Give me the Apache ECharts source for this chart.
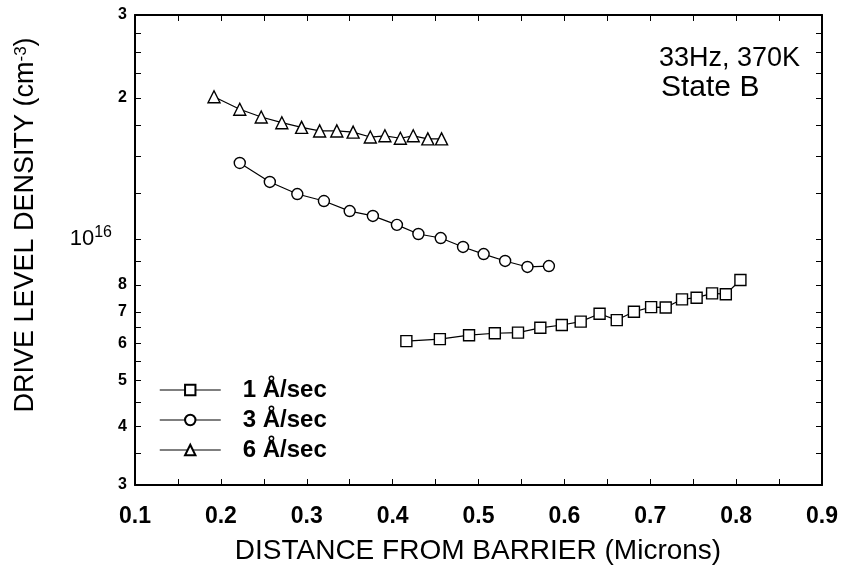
<!DOCTYPE html>
<html>
<head>
<meta charset="utf-8">
<script src="https://cdn.jsdelivr.net/npm/echarts@6/dist/echarts.min.js"></script>
<style>
  html, body { margin: 0; padding: 0; background: #fff; }
  #chart { width: 851px; height: 569px; }
</style>
</head>
<body>
<div id="chart"></div>
<script>
// Drive level density profiles (cm^-3) versus distance from the barrier (microns)
const rate1X = [0.416, 0.455, 0.489, 0.519, 0.546, 0.572, 0.597, 0.619, 0.641, 0.661, 0.681, 0.701, 0.718, 0.737, 0.754, 0.772, 0.788, 0.805];
const rate1Y = [6.07e15, 6.13e15, 6.25e15, 6.31e15, 6.33e15, 6.48e15, 6.57e15, 6.68e15, 6.94e15, 6.73e15, 7.01e15, 7.17e15, 7.16e15, 7.45e15, 7.51e15, 7.67e15, 7.64e15, 8.19e15];

const rate3X = [0.222, 0.257, 0.289, 0.320, 0.350, 0.377, 0.405, 0.430, 0.456, 0.482, 0.506, 0.531, 0.557, 0.582];
const rate3Y = [1.453e16, 1.324e16, 1.248e16, 1.206e16, 1.148e16, 1.121e16, 1.073e16, 1.026e16, 1.006e16, 9.63e15, 9.30e15, 8.99e15, 8.73e15, 8.77e15];

const rate6X = [0.192, 0.222, 0.247, 0.271, 0.294, 0.315, 0.335, 0.354, 0.374, 0.391, 0.409, 0.424, 0.441, 0.457];
const rate6Y = [2.01e16, 1.89e16, 1.82e16, 1.77e16, 1.73e16, 1.70e16, 1.70e16, 1.69e16, 1.65e16, 1.66e16, 1.64e16, 1.66e16, 1.635e16, 1.635e16];

const seriesNames = ['1 Å/sec', '3 Å/sec', '6 Å/sec'];

// Axis ticks and labels
const xLabelValues = [0.1, 0.2, 0.3, 0.4, 0.5, 0.6, 0.7, 0.8, 0.9];
const xTickValues = [0.1, 0.15, 0.2, 0.25, 0.3, 0.35, 0.4, 0.45, 0.5, 0.55, 0.6, 0.65, 0.7, 0.75, 0.8, 0.85, 0.9];
const yLabelValues = [3e15, 4e15, 5e15, 6e15, 7e15, 8e15, 1e16, 2e16, 3e16];
const yLabelTexts = ['3', '4', '5', '6', '7', '8', '{ten|10}{sup|16}', '2', '3'];
const yTickValues = [3e15, 3.5e15, 4e15, 4.5e15, 5e15, 5.5e15, 6e15, 6.5e15, 7e15, 8e15, 9e15, 1e16,
                     1.25e16, 1.5e16, 1.75e16, 2e16, 2.25e16, 2.5e16, 2.75e16, 3e16];

const Y_MIN = 3e15, Y_MAX = 3e16;
const FONT = 'Liberation Sans';

const logMin = Math.log10(Y_MIN), logMax = Math.log10(Y_MAX);
const yLabelLogs = yLabelValues.map(Math.log10);
const yTickLogs = yTickValues.map(Math.log10);

function pairs(xs, ys) { return xs.map((x, i) => [x, ys[i]]); }

function yLabelFormatter(v) {
  let best = 0;
  yLabelLogs.forEach((l, i) => { if (Math.abs(l - v) < Math.abs(yLabelLogs[best] - v)) best = i; });
  return yLabelTexts[best];
}

const frameLine = { show: true, onZero: false, lineStyle: { color: '#000', width: 2 } };
const tickStyle = { show: true, inside: true, length: 6, lineStyle: { color: '#000', width: 1 } };

function lineSeries(name, data, symbol) {
  return {
    name, type: 'line', data, symbol, symbolSize: symbol === 'triangle' ? 12 : 11,
    showSymbol: true, xAxisIndex: 0, yAxisIndex: 0, animation: false,
    lineStyle: { color: '#000', width: 1.2 },
    itemStyle: { color: '#fff', borderColor: '#000', borderWidth: 1.4 },
    emphasis: { disabled: true }
  };
}

const chart = echarts.init(document.getElementById('chart'), null, { renderer: 'canvas' });
chart.setOption({
  animation: false,
  backgroundColor: '#fff',
  grid: { left: 135, right: 29, top: 15, bottom: 84 },
  xAxis: [
    {
      type: 'value', position: 'bottom', min: 0.1, max: 0.9,
      axisLine: frameLine,
      axisTick: Object.assign({}, tickStyle, { customValues: xTickValues }),
      axisLabel: {
        customValues: xLabelValues, margin: 20,
        formatter: v => v.toFixed(1),
        fontFamily: FONT, fontSize: 23, fontWeight: 'bold', color: '#000'
      },
      splitLine: { show: false }
    },
    {
      type: 'value', position: 'top', min: 0.1, max: 0.9,
      axisLine: frameLine,
      axisTick: Object.assign({}, tickStyle, { customValues: xTickValues }),
      axisLabel: { show: false },
      splitLine: { show: false }
    }
  ],
  yAxis: [
    {
      type: 'log', logBase: 10, min: Y_MIN, max: Y_MAX, position: 'left',
      axisLine: { show: false }, axisTick: { show: false },
      axisLabel: { show: false }, splitLine: { show: false }
    },
    {
      type: 'value', position: 'left', min: logMin, max: logMax,
      axisLine: frameLine,
      axisTick: Object.assign({}, tickStyle, { customValues: yTickLogs }),
      axisLabel: {
        customValues: yLabelLogs, margin: 8,
        formatter: yLabelFormatter,
        fontFamily: FONT, fontSize: 16, fontWeight: 'bold', color: '#000',
        rich: {
          ten: { fontFamily: FONT, fontSize: 22, fontWeight: 'normal', color: '#000', lineHeight: 30 },
          sup: { fontFamily: FONT, fontSize: 16, fontWeight: 'normal', color: '#000', verticalAlign: 'top', lineHeight: 16, padding: [0, 15, 0, 0] }
        }
      },
      splitLine: { show: false }
    },
    {
      type: 'value', position: 'right', min: logMin, max: logMax,
      axisLine: frameLine,
      axisTick: Object.assign({}, tickStyle, { customValues: yTickLogs }),
      axisLabel: { show: false },
      splitLine: { show: false }
    }
  ],
  legend: {
    data: seriesNames, orient: 'vertical', left: 154, top: 373,
    itemWidth: 61, itemHeight: 13, itemGap: 6,
    selectedMode: false,
    lineStyle: { color: '#555', width: 1.5 },
    textStyle: { fontFamily: FONT, fontSize: 24, fontWeight: 'bold', color: '#000', padding: [0, 0, 0, 17] }
  },
  series: [
    lineSeries(seriesNames[0], pairs(rate1X, rate1Y), 'rect'),
    lineSeries(seriesNames[1], pairs(rate3X, rate3Y), 'circle'),
    lineSeries(seriesNames[2], pairs(rate6X, rate6Y), 'triangle')
  ],
  graphic: [
    {
      type: 'text', left: 659, top: 45,
      style: { text: '33Hz, 370K', font: '27px "Liberation Sans"', fill: '#000' }
    },
    {
      type: 'text', left: 661, top: 73,
      style: { text: 'State B', font: '30px "Liberation Sans"', fill: '#000' }
    },
    {
      type: 'text', x: 478, y: 551,
      style: { text: 'DISTANCE FROM BARRIER (Microns)', font: '28px "Liberation Sans"', fill: '#000', align: 'center', verticalAlign: 'middle' }
    },
    {
      type: 'text', x: 26, y: 225, rotation: Math.PI / 2,
      style: {
        text: 'DRIVE LEVEL DENSITY (cm{sup|-3})', font: '27px "Liberation Sans"', fill: '#000',
        align: 'center', verticalAlign: 'middle',
        rich: { sup: { font: '17px "Liberation Sans"', fill: '#000', verticalAlign: 'top', lineHeight: 14 } }
      }
    }
  ]
});
</script>
</body>
</html>
